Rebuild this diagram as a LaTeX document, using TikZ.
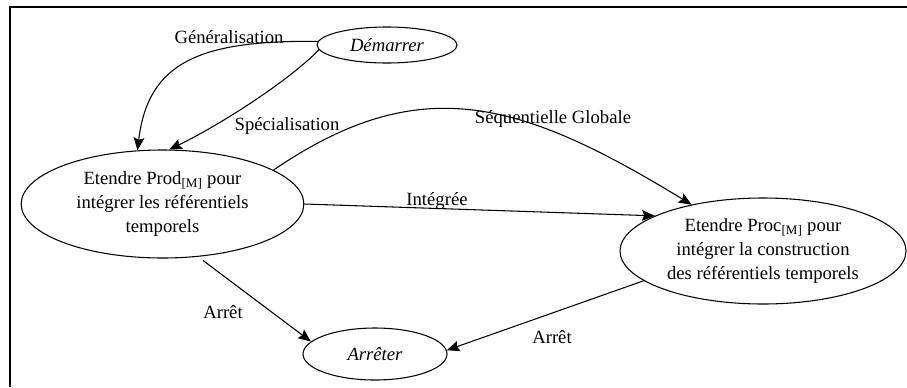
\documentclass[tikz,border=0pt]{standalone}
\usepackage{fontspec}
\setmainfont{Liberation Serif}
\usetikzlibrary{shapes.geometric, arrows.meta, positioning}

\begin{document}
\begin{tikzpicture}[
    x=0.75pt, y=-0.75pt,
    every node/.style={font=\fontsize{14}{18}\selectfont},
    etat/.style={
        ellipse,
        draw,
        line width=0.8pt,
        inner sep=0pt,
        align=center
    },
    arrow/.style={line width=0.8pt,->,>={Stealth[length=9.5pt,width=8pt,inset=1.5pt]}}
]

\useasboundingbox (0,0) rectangle (907,387);
\draw [line width=1.5pt] (9.5,387) |- (907,6.5);

\node (demarrer) [etat, minimum width=105pt, minimum height=27pt] at (387,45) {\itshape Démarrer};
\node (prod) [etat, minimum width=212pt, minimum height=81pt] at (162.5,204) {Etendre Prod\textsubscript{[M]} pour\\intégrer les référentiels\\temporels};
\node (proc) [etat, minimum width=214.5pt, minimum height=79.5pt] at (763,251) {Etendre Proc\textsubscript{[M]} pour\\intégrer la construction\\des référentiels temporels};
\node (arreter) [etat, minimum width=108pt, minimum height=39pt] at (375,354) {\itshape Arrêter};

\node (lgen) at (229,37) {Généralisation};
\node (lspe) at (287,126) {Spécialisation};
\node (lseq) at (553,119) {Séquentielle Globale};
\node (lint) at (437,201) {Intégrée};
\node (larret1) at (223,312) {Arrêt};
\node (larret2) at (552,337) {Arrêt};

\draw [arrow] (demarrer.177) .. controls (200,40) and (148,62) .. (prod.115);
\draw [arrow] (demarrer.184) .. controls (290,80) and (220,125) .. (prod.83);
\draw [arrow] (prod.17) .. controls (420,70) and (520,100) .. (proc.147);
\draw [arrow] (prod.east) -- (proc.162);
\draw [arrow, shorten <=4.5pt] (prod.304) -- (arreter.169);
\draw [arrow] (proc.194) -- (arreter.3);

\end{tikzpicture}
\end{document}
